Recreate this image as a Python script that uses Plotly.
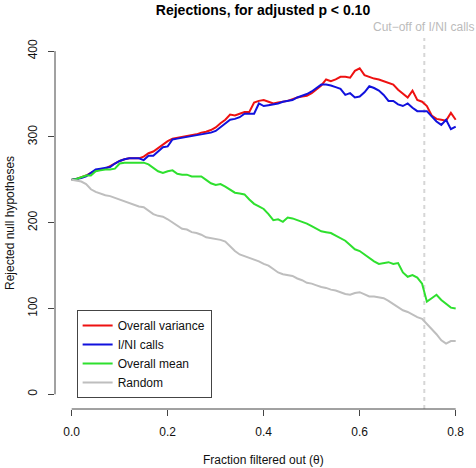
import plotly.graph_objects as go

theta = [0.00, 0.01, 0.02, 0.03, 0.04, 0.05, 0.06, 0.07, 0.08, 0.09,
         0.10, 0.11, 0.12, 0.13, 0.14, 0.15, 0.16, 0.17, 0.18, 0.19,
         0.20, 0.21, 0.22, 0.23, 0.24, 0.25, 0.26, 0.27, 0.28, 0.29,
         0.30, 0.31, 0.32, 0.33, 0.34, 0.35, 0.36, 0.37, 0.38, 0.39,
         0.40, 0.41, 0.42, 0.43, 0.44, 0.45, 0.46, 0.47, 0.48, 0.49,
         0.50, 0.51, 0.52, 0.53, 0.54, 0.55, 0.56, 0.57, 0.58, 0.59,
         0.60, 0.61, 0.62, 0.63, 0.64, 0.65, 0.66, 0.67, 0.68, 0.69,
         0.70, 0.71, 0.72, 0.73, 0.74, 0.75, 0.76, 0.77, 0.78, 0.79, 0.80]

overall_variance = [250, 251, 253, 255, 258, 261, 262, 263, 266, 269,
                    272, 274, 275, 275, 275, 277, 281, 283, 287, 292,
                    295, 298, 299, 300, 301, 302, 303, 305, 306, 308,
                    311, 316, 320, 326, 325, 327, 329, 329, 340, 342,
                    343, 341, 339, 340, 341, 342, 344, 346, 347, 348,
                    351, 356, 360, 367, 365, 367, 370, 370, 369, 377,
                    380, 372, 370, 368, 367, 365, 363, 361, 355, 351,
                    346, 354, 343, 341, 336, 325, 321, 320, 319, 328, 320]

ini_calls = [250, 251, 252, 254, 258, 262, 263, 264, 265, 269,
             272, 274, 275, 275, 275, 273, 278, 278, 283, 288,
             289, 297, 298, 299, 300, 301, 302, 303, 304, 305,
             307, 311, 315, 320, 321, 323, 327, 327, 327, 339,
             336, 337, 338, 339, 341, 342, 343, 346, 348, 350,
             353, 357, 361, 361, 360, 358, 356, 349, 351, 346,
             347, 352, 359, 357, 354, 349, 342, 342, 338, 336,
             339, 334, 330, 330, 330, 324, 318, 314, 320, 309, 312]

overall_mean = [250, 251, 253, 255, 255, 260, 261, 262, 262, 263,
                269, 270, 270, 270, 270, 270, 268, 264, 260, 258,
                260, 261, 257, 256, 256, 254, 254, 254, 250, 246,
                244, 245, 242, 239, 235, 234, 233, 227, 222, 219,
                216, 210, 203, 204, 201, 206, 205, 203, 201, 199,
                196, 193, 190, 189, 188, 185, 182, 179, 174, 169,
                167, 163, 158, 155, 152, 153, 154, 152, 153, 142,
                137, 139, 136, 129, 108, 112, 116, 110, 105, 101, 100]

random_filter = [250, 249, 248, 245, 239, 236, 234, 232, 231, 229,
                 227, 225, 223, 221, 219, 218, 214, 210, 208, 207,
                 204, 200, 196, 193, 192, 189, 188, 186, 183, 182,
                 181, 180, 178, 172, 167, 163, 161, 159, 157, 155,
                 152, 150, 146, 142, 140, 139, 138, 135, 133, 130,
                 129, 127, 125, 124, 122, 121, 119, 117, 116, 118,
                 119, 116, 114, 114, 113, 112, 109, 105, 101, 98,
                 96, 93, 90, 88, 82, 77, 70, 63, 59, 62, 62]

series_names = ["Overall variance", "I/NI calls", "Overall mean", "Random"]
series_colors = ["#ee1111", "#1111dd", "#2ee02e", "#bebebe"]
cutoff = 0.7346
x_ticks = [0.0, 0.2, 0.4, 0.6, 0.8]
x_ticktext = ["0.0", "0.2", "0.4", "0.6", "0.8"]
y_ticks = [0, 100, 200, 300, 400]

FONT = "Liberation Sans, Arial, Helvetica, sans-serif"
AX = "#444444"

fig = go.Figure()
for name, vals, col in zip(series_names,
                           [overall_variance, ini_calls, overall_mean, random_filter],
                           series_colors):
    fig.add_trace(go.Scatter(x=theta, y=vals, mode="lines", name=name,
                             line=dict(color=col, width=2)))

fig.update_layout(
    width=476, height=468,
    margin=dict(l=55, r=5, t=38, b=59),
    paper_bgcolor="white", plot_bgcolor="white",
    font=dict(family=FONT, size=12, color="#111111"),
    title=dict(text="<b>Rejections, for adjusted p < 0.10</b>",
               x=0.5, xref="paper", xanchor="center",
               y=1 - 10 / 468, yref="container", yanchor="middle",
               font=dict(size=14, color="#000000")),
    showlegend=True,
    legend=dict(x=0.052, y=(409 - 310) / 371, xanchor="left", yanchor="top",
                bordercolor="#444444", borderwidth=1, bgcolor="white",
                font=dict(size=12, color="#111111")),
    xaxis=dict(range=[-0.0348, 0.8319], tickvals=x_ticks, ticktext=x_ticktext,
               ticks="outside", ticklen=6, tickcolor=AX, showline=False,
               showgrid=False, zeroline=False, ticklabelstandoff=6,
               tickfont=dict(size=12, color="#111111")),
    yaxis=dict(range=[-17.13, 415.3], tickvals=y_ticks,
               ticks="outside", ticklen=6, tickcolor=AX, showline=False,
               showgrid=False, zeroline=False, tickangle=-90,
               ticklabelstandoff=6, tickfont=dict(size=12, color="#111111")),
)

# R-style detached axis lines
fig.add_shape(type="line", xref="x", yref="paper", x0=x_ticks[0], x1=x_ticks[-1],
              y0=0, y1=0, line=dict(color=AX, width=1))
fig.add_shape(type="line", xref="paper", yref="y", x0=0, x1=0,
              y0=y_ticks[0], y1=y_ticks[-1], line=dict(color=AX, width=1))

# cut-off line
fig.add_shape(type="line", xref="x", yref="paper", x0=cutoff, x1=cutoff,
              y0=0, y1=1, line=dict(color="#d6d6d6", width=2, dash="4px,4px"),
              layer="below")
fig.add_annotation(text="Cut\u2212off of I/NI calls", x=cutoff, xref="x",
                   y=(409 - 27) / 371, yref="paper", xanchor="center",
                   yanchor="middle", showarrow=False,
                   font=dict(size=12, color="#bbbbbb"))

# axis titles
fig.add_annotation(text="Fraction filtered out (\u03b8)", x=0.5, xref="paper",
                   y=(409 - 460) / 371, yref="paper", xanchor="center",
                   yanchor="middle", showarrow=False,
                   font=dict(size=12, color="#111111"))
fig.add_annotation(text="Rejected null hypotheses", x=(10 - 55) / 416, xref="paper",
                   y=(409 - 223) / 371, yref="paper", xanchor="center",
                   yanchor="middle", showarrow=False, textangle=-90,
                   font=dict(size=12, color="#111111"))

fig.write_html("out.html",
               config={"displayModeBar": False},
               post_script="document.body.style.margin='0';document.body.style.overflow='hidden';")
